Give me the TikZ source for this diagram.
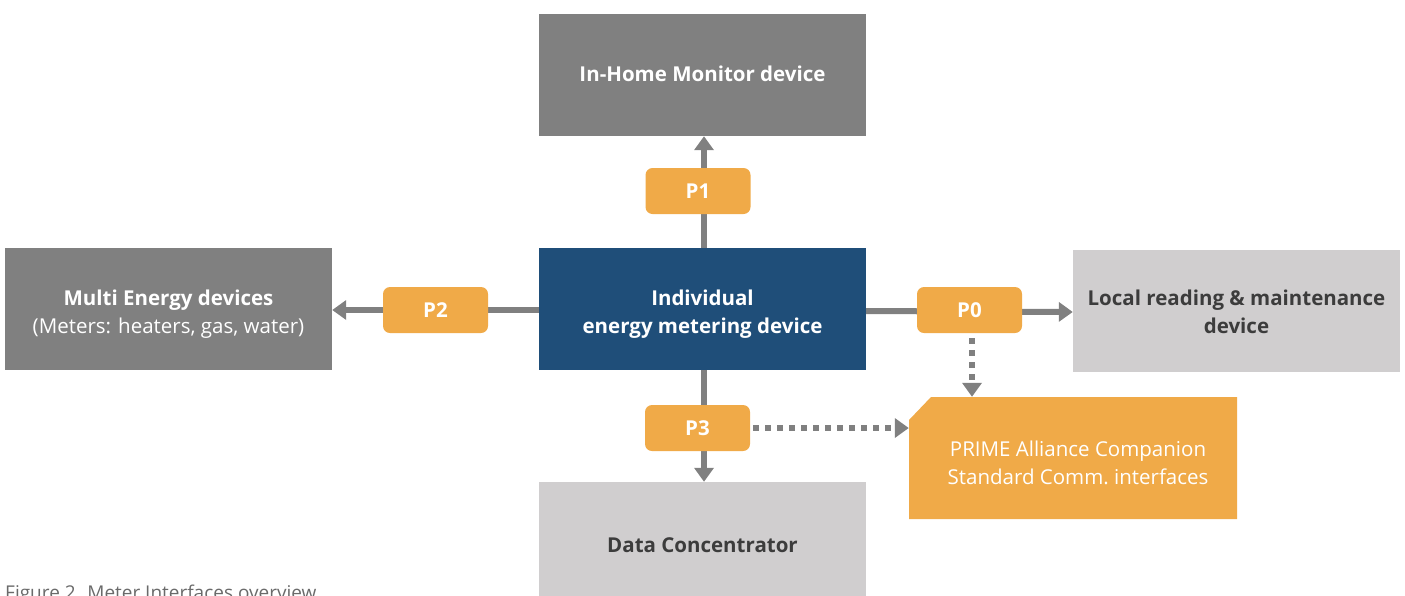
\documentclass[tikz,border=0pt]{standalone}
\usepackage{fontspec}
\setmainfont{Open Sans}
\usetikzlibrary{arrows.meta,calc}
\definecolor{boxgray}{HTML}{808080}
\definecolor{lightgray}{HTML}{D0CECF}
\definecolor{mainblue}{HTML}{1F4E79}
\definecolor{portorange}{HTML}{F0AA48}
\definecolor{darktext}{HTML}{3C3C3C}
\definecolor{captiongray}{HTML}{6A6A6A}
\tikzset{
  devbox/.style={rectangle, minimum width=327pt, minimum height=122pt, inner sep=0pt},
  darkbox/.style={devbox, fill=boxgray},
  lightbox/.style={devbox, fill=lightgray},
  mainbox/.style={devbox, fill=mainblue},
  boxtext/.style={inner sep=0pt, align=center, font=\fontsize{20.5}{28}\selectfont\bfseries},
  whitetext/.style={boxtext, text=white},
  darkboxtext/.style={boxtext, text=darktext},
  port/.style={rectangle, rounded corners=7pt, fill=portorange, text=white,
    minimum width=105pt, minimum height=46pt, inner sep=0pt,
    font=\fontsize{20.5}{22}\selectfont\bfseries},
  link/.style={draw=boxgray, line width=6pt, -{Triangle[width=19pt,length=14pt]}},
  dotlink/.style={draw=boxgray, line width=6pt, dash pattern=on 6pt off 6pt,
    -{Triangle[width=19pt,length=14pt]}}
}
\begin{document}
\begin{tikzpicture}[x=1pt,y=-1pt]
\useasboundingbox (0,0) rectangle (1405,595);

% device boxes
\node[darkbox]  (ihm)   at (702.5,75)  {};
\node[mainbox]  (meter) at (702.5,309) {};
\node[darkbox]  (multi) at (168.5,309) {};
\node[lightbox] (local) at (1236.5,311) {};
\node[lightbox] (dc)    at (702.5,543) {};

% device labels
\node[whitetext]    (ihm-text)   at (702.5,74)  {In-Home Monitor device};
\node[whitetext]    (meter-text) at (702.5,314) {Individual\\energy metering device};
\node[whitetext]    (multi-text) at (168.5,314) {Multi Energy devices\\\mdseries(Meters: heaters, gas, water)};
\node[darkboxtext]  (local-text) at (1236.5,312) {Local reading \& maintenance\\device};
\node[darkboxtext]  (dc-text)    at (702.5,545) {Data Concentrator};

% companion standard box with clipped corner
\fill[portorange] (909,420) -- (931,397) -- (1237,397) -- (1237,519) -- (909,519) -- cycle;
\node[rectangle, minimum width=328pt, minimum height=122pt, inner sep=0pt] (prime) at (1073,458) {};
\node[inner sep=0pt, align=center, text=white, font=\fontsize{20.5}{28}\selectfont]
  (prime-text) at (1078,463) {PRIME Alliance Companion\\Standard Comm.\ interfaces};

% connectors
\draw[link] ([xshift=1.5pt]meter.north) -- ([xshift=1.5pt]ihm.south);
\draw[link] (meter.west |- 0,310) -- (multi.east |- 0,310);
\draw[link] (meter.east |- 0,311) -- (local.west |- 0,312);
\draw[link] ([xshift=1.5pt]meter.south) -- ([xshift=1.5pt]dc.north);

% interface ports
\node[port] (p1) at (698,191) {P1};
\node[port] (p2) at (435.5,310) {P2};
\node[port] (p0) at (969.5,310) {P0};
\node[port] (p3) at (697.5,428) {P3};

% companion standard links
\draw[dotlink] ([xshift=2.5pt,yshift=-5pt]p0.south) -- ([xshift=2.5pt]p0.south |- prime.north);
\draw[dotlink] ([xshift=3pt]p3.east) -- (prime.west |- p3.east);

% caption
\node[anchor=base west, inner sep=0pt, text=captiongray, font=\fontsize{19}{22}\selectfont]
  (caption) at (5,599) {Figure 2. Meter Interfaces overview};
\end{tikzpicture}
\end{document}
